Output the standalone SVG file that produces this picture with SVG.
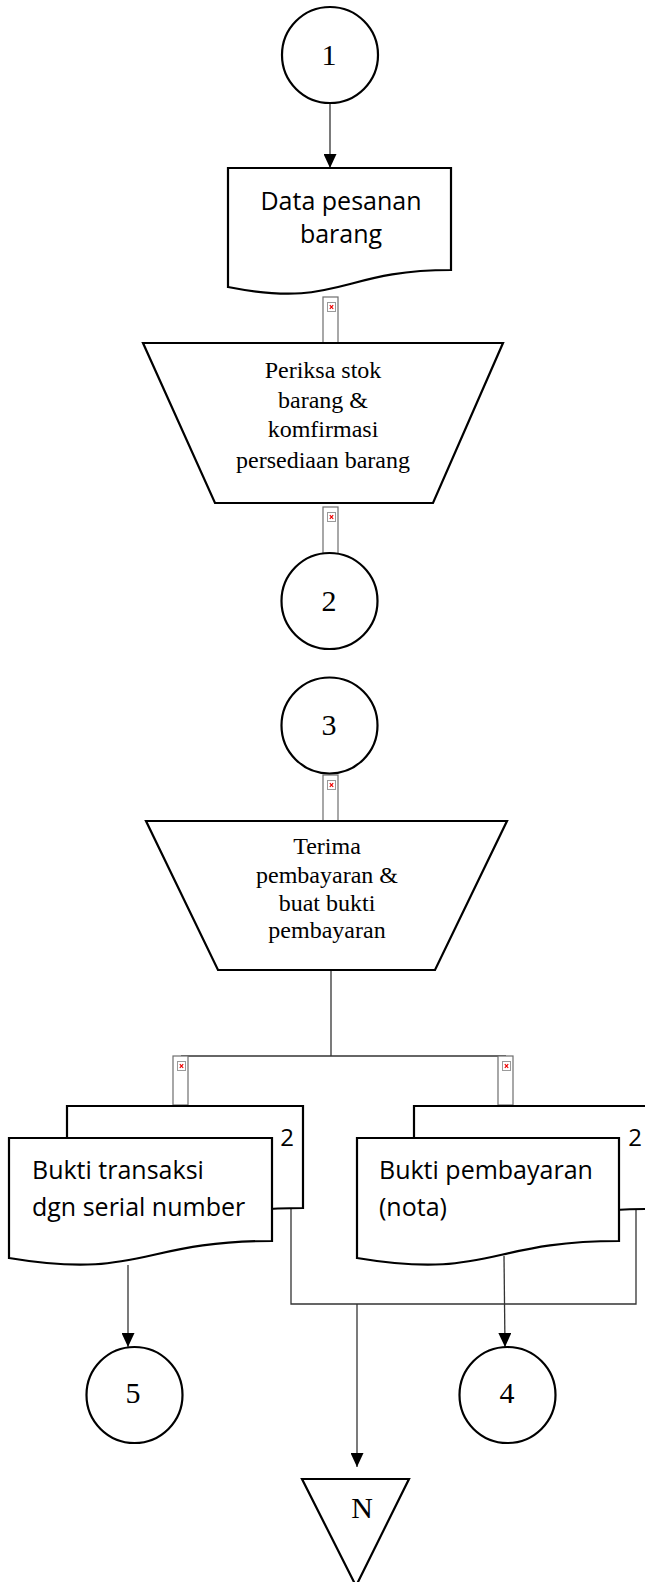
<svg xmlns="http://www.w3.org/2000/svg" width="645" height="1582" viewBox="0 0 645 1582">
<style>
.shape{fill:#fff;stroke:#000;stroke-width:2.2;stroke-linejoin:miter}
.conn{fill:none;stroke:#333;stroke-width:1.3}
.ph{fill:#fff;stroke:#6e6e6e;stroke-width:1.2}
.phi{fill:#fff;stroke:#9a9a9a;stroke-width:1}
.phx{stroke:#e00;stroke-width:1.2}
.serif{font-family:"Liberation Serif","Times New Roman",serif;fill:#000}
.sans{font-family:"Open Sans","Noto Sans",sans-serif;fill:#000}
.num{font-size:30px;text-anchor:middle}
.proc{font-size:24px;text-anchor:middle}
.doc{font-size:25px}
.cnt{font-size:24px;text-anchor:middle}
</style>
<defs>
<marker id="arr" markerUnits="userSpaceOnUse" markerWidth="14" markerHeight="13" viewBox="0 0 14 13" refX="14" refY="6.5" orient="auto">
<path d="M0,0 L14,6.5 L0,13 Z" fill="#000"/>
</marker>
<g id="broken">
<rect class="ph" x="0" y="0" width="15" height="49"/>
<rect class="phi" x="4.5" y="5.5" width="8" height="9"/>
<path class="phx" d="M6.8,8.2 L10.2,11.8 M10.2,8.2 L6.8,11.8"/>
</g>
</defs>

<g id="connectors">
<line class="conn" x1="330" y1="102" x2="330" y2="168" marker-end="url(#arr)"/>
<line class="conn" x1="331" y1="970" x2="331" y2="1056"/>
<line class="conn" x1="181" y1="1056" x2="506" y2="1056"/>
<line class="conn" x1="128" y1="1265" x2="128" y2="1347" marker-end="url(#arr)"/>
<line class="conn" x1="504" y1="1256" x2="505" y2="1347" marker-end="url(#arr)"/>
<polyline class="conn" points="291,1208 291,1304 636,1304 636,1209"/>
<line class="conn" x1="357" y1="1304" x2="357" y2="1467" marker-end="url(#arr)"/>
</g>

<g id="broken-links">
<use href="#broken" x="323" y="297"/>
<use href="#broken" x="323" y="507"/>
<use href="#broken" x="323" y="775"/>
<use href="#broken" x="173" y="1056"/>
<use href="#broken" x="498" y="1056"/>
</g>

<g id="node-c1">
<circle class="shape" cx="330" cy="55" r="48"/>
<text class="serif num" x="329" y="65">1</text>
</g>

<g id="node-data-pesanan">
<path class="shape" d="M228,168 H451 V270 C339.5,270 339.5,309 228,287 Z"/>
<text class="sans doc" x="341" y="210" text-anchor="middle">Data pesanan</text>
<text class="sans doc" x="341" y="243" text-anchor="middle">barang</text>
</g>

<g id="node-periksa">
<path class="shape" d="M143,343 H503 L433,503 H215 Z"/>
<text class="serif proc" x="323" y="378">Periksa stok</text>
<text class="serif proc" x="323" y="408">barang &amp;</text>
<text class="serif proc" x="323" y="437">komfirmasi</text>
<text class="serif proc" x="323" y="468">persediaan barang</text>
</g>

<g id="node-c2">
<circle class="shape" cx="329.5" cy="601" r="48"/>
<text class="serif num" x="329" y="611">2</text>
</g>

<g id="node-c3">
<circle class="shape" cx="329.5" cy="725.5" r="48"/>
<text class="serif num" x="329" y="735">3</text>
</g>

<g id="node-terima">
<path class="shape" d="M146,821 H507 L435,970 H218 Z"/>
<text class="serif proc" x="327" y="854">Terima</text>
<text class="serif proc" x="327" y="883">pembayaran &amp;</text>
<text class="serif proc" x="327" y="911">buat bukti</text>
<text class="serif proc" x="327" y="938">pembayaran</text>
</g>

<g id="node-bukti-transaksi">
<path class="shape" d="M67,1106 H303 V1208 C185,1208 185,1241 67,1224 Z"/>
<path class="shape" d="M9,1138 H272 V1241 C140.5,1241 140.5,1280 9,1258 Z"/>
<text class="sans cnt" x="287" y="1146">2</text>
<text class="sans doc" x="32" y="1179">Bukti transaksi</text>
<text class="sans doc" x="32" y="1216">dgn serial number</text>
</g>

<g id="node-bukti-pembayaran">
<path class="shape" d="M414,1106 H650 V1209 C532,1209 532,1241 414,1224 Z"/>
<path class="shape" d="M357,1138 H619 V1241 C488,1241 488,1280 357,1258 Z"/>
<text class="sans cnt" x="635" y="1146">2</text>
<text class="sans doc" x="379" y="1179">Bukti pembayaran</text>
<text class="sans doc" x="379" y="1216">(nota)</text>
</g>

<g id="node-c5">
<circle class="shape" cx="134.5" cy="1395" r="48"/>
<text class="serif num" x="133" y="1403">5</text>
</g>

<g id="node-c4">
<circle class="shape" cx="507.5" cy="1395" r="48"/>
<text class="serif num" x="507" y="1403">4</text>
</g>

<g id="node-n">
<path class="shape" d="M302,1479 H409 L356,1586 Z"/>
<text class="serif num" x="362" y="1518">N</text>
</g>
</svg>
